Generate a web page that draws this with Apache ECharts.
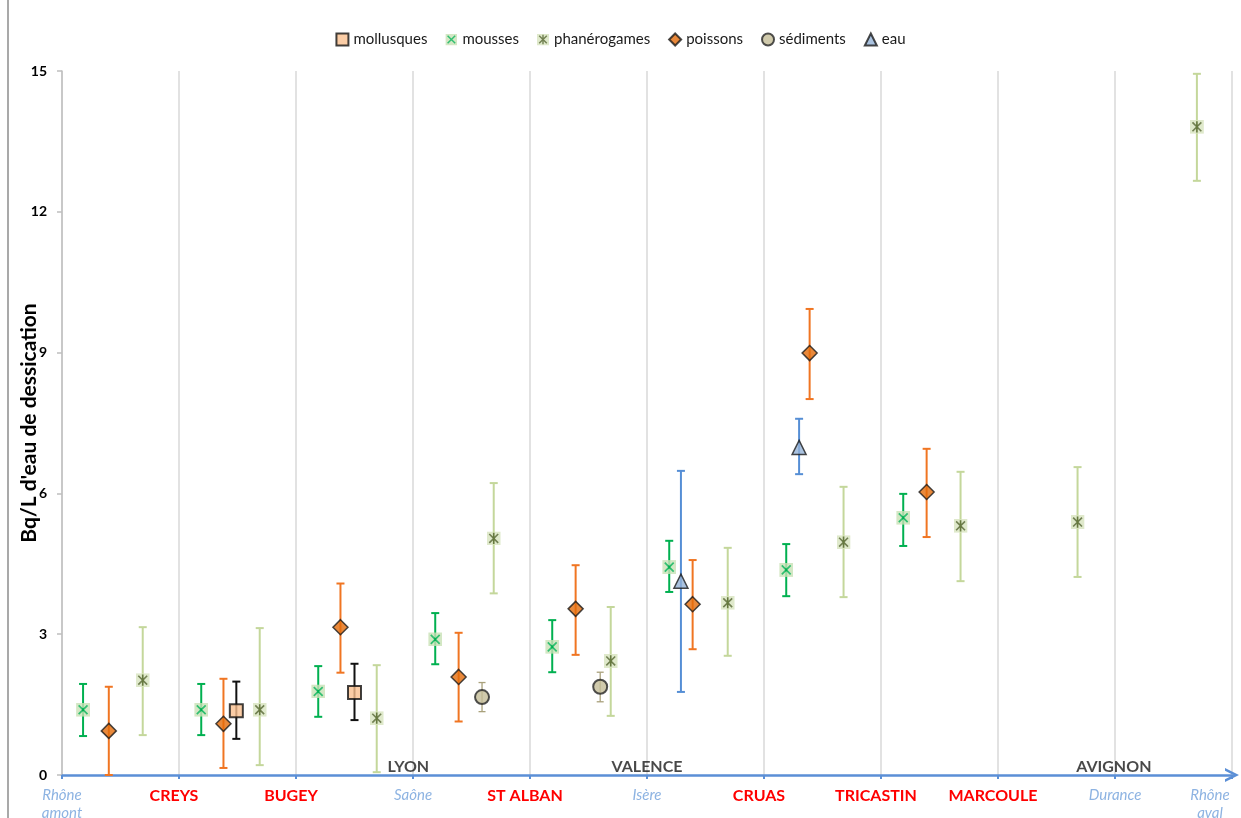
<!DOCTYPE html>
<html>
<head>
<meta charset="utf-8">
<script src="https://cdn.jsdelivr.net/npm/echarts@6/dist/echarts.min.js"></script>
<style>
  html, body { margin: 0; padding: 0; background: #ffffff; }
  #chart { width: 1241px; height: 818px; }
</style>
</head>
<body>
<div id="chart"></div>
<script>
// Stations along the Rhône, upstream (0) to downstream (10)
const stationLabels = ['Rhône\namont', 'CREYS', 'BUGEY', 'Saône', 'ST ALBAN', 'Isère',
  'CRUAS', 'TRICASTIN', 'MARCOULE', 'Durance', 'Rhône\naval'];
const stationKinds = ['river', 'site', 'site', 'river', 'site', 'river',
  'site', 'site', 'site', 'river', 'river'];

// Cities written along the river axis
const cityNames = ['LYON', 'VALENCE', 'AVIGNON'];
const cityPositions = [2.96, 5.0, 8.99];

// Activity (Bq/L of desiccation water) with lower / upper uncertainty bounds
const mollusquesX = [1.49, 2.50];
const mollusquesY = [1.37, 1.76];
const mollusquesLow = [0.77, 1.17];
const mollusquesHigh = [1.99, 2.37];

const moussesX = [0.18, 1.19, 2.19, 3.19, 4.19, 5.19, 6.19, 7.19];
const moussesY = [1.39, 1.39, 1.78, 2.89, 2.73, 4.43, 4.37, 5.48];
const moussesLow = [0.83, 0.85, 1.24, 2.36, 2.19, 3.90, 3.81, 4.88];
const moussesHigh = [1.94, 1.94, 2.32, 3.45, 3.30, 4.99, 4.92, 5.99];

const phanerogamesX = [0.69, 1.69, 2.69, 3.69, 4.69, 5.69, 6.68, 7.68, 8.68, 9.70];
const phanerogamesY = [2.02, 1.39, 1.21, 5.04, 2.43, 3.67, 4.96, 5.31, 5.39, 13.81];
const phanerogamesLow = [0.85, 0.21, 0.06, 3.87, 1.26, 2.54, 3.79, 4.13, 4.22, 12.66];
const phanerogamesHigh = [3.15, 3.13, 2.34, 6.22, 3.58, 4.84, 6.14, 6.46, 6.56, 14.94];

const poissonsX = [0.40, 1.38, 2.38, 3.39, 4.39, 5.39, 6.39, 7.39];
const poissonsY = [0.94, 1.09, 3.15, 2.09, 3.54, 3.64, 8.99, 6.03];
const poissonsLow = [0, 0.15, 2.18, 1.14, 2.56, 2.68, 8.01, 5.07];
const poissonsHigh = [1.88, 2.05, 4.08, 3.03, 4.47, 4.58, 9.93, 6.95];

const sedimentsX = [3.59, 4.60];
const sedimentsY = [1.66, 1.88];
const sedimentsLow = [1.35, 1.56];
const sedimentsHigh = [1.97, 2.19];

const eauX = [5.29, 6.30];
const eauY = [4.13, 6.98];
const eauLow = [1.77, 6.41];
const eauHigh = [6.48, 7.59];

const FONT = 'Lato, "Open Sans", sans-serif';

function svgSymbol(svg) {
  return 'image://data:image/svg+xml;charset=utf-8,' + encodeURIComponent(svg);
}
const moussesSymbol = svgSymbol(
  "<svg xmlns='http://www.w3.org/2000/svg' width='24' height='24' viewBox='0 0 12 12'>" +
  "<rect width='12' height='12' fill='#c9e2b6'/>" +
  "<path d='M2.2 2.2L9.8 9.8M9.8 2.2L2.2 9.8' stroke='#00b050' stroke-width='1.5' fill='none'/></svg>");
const phanerogamesSymbol = svgSymbol(
  "<svg xmlns='http://www.w3.org/2000/svg' width='24' height='24' viewBox='0 0 12 12'>" +
  "<rect width='12' height='12' fill='#d8e4bf'/>" +
  "<path d='M2.2 2.2L9.8 9.8M9.8 2.2L2.2 9.8M6 1.2L6 10.8' stroke='#4f6228' stroke-width='1.4' fill='none'/></svg>");

// Vertical uncertainty bar with caps, positioned through the axes
function errorBar(color, width, cap) {
  return function (params, api) {
    const x = api.value(0);
    const top = api.coord([x, api.value(2)]);
    const bot = api.coord([x, api.value(1)]);
    const style = { stroke: color, lineWidth: width };
    return {
      type: 'group',
      children: [
        { type: 'line', shape: { x1: top[0], y1: top[1], x2: bot[0], y2: bot[1] }, style },
        { type: 'line', shape: { x1: top[0] - cap, y1: top[1], x2: top[0] + cap, y2: top[1] }, style },
        { type: 'line', shape: { x1: bot[0] - cap, y1: bot[1], x2: bot[0] + cap, y2: bot[1] }, style }
      ]
    };
  };
}

function makeGroup(name, xs, ys, lows, highs, marker, bar) {
  return [
    {
      name: name + '-bornes',
      type: 'custom',
      z: 3,
      silent: true,
      renderItem: errorBar(bar.color, bar.width, bar.cap),
      encode: { x: 0, y: [1, 2] },
      data: xs.map((x, i) => [x, lows[i], highs[i]])
    },
    Object.assign({
      name: name,
      type: 'scatter',
      z: 5,
      data: xs.map((x, i) => [x, ys[i]])
    }, marker)
  ];
}

const series = [].concat(
  makeGroup('phanérogames', phanerogamesX, phanerogamesY, phanerogamesLow, phanerogamesHigh,
    { symbol: phanerogamesSymbol, symbolSize: 14 },
    { color: '#c4d79b', width: 2, cap: 4 }),
  makeGroup('mousses', moussesX, moussesY, moussesLow, moussesHigh,
    { symbol: moussesSymbol, symbolSize: 14 },
    { color: '#00b050', width: 2, cap: 4 }),
  makeGroup('sédiments', sedimentsX, sedimentsY, sedimentsLow, sedimentsHigh,
    { symbol: 'circle', symbolSize: 14, itemStyle: { color: '#c4bd97', borderColor: '#262626', borderWidth: 2 } },
    { color: '#a9a17b', width: 1.3, cap: 3.5 }),
  makeGroup('mollusques', mollusquesX, mollusquesY, mollusquesLow, mollusquesHigh,
    { symbol: 'rect', symbolSize: 13, itemStyle: { color: '#fac090', borderColor: '#111111', borderWidth: 2 } },
    { color: '#111111', width: 2, cap: 4 }),
  makeGroup('poissons', poissonsX, poissonsY, poissonsLow, poissonsHigh,
    { symbol: 'diamond', symbolSize: 15, itemStyle: { color: '#e46c0a', borderColor: '#1a1a1a', borderWidth: 1.5 } },
    { color: '#f07522', width: 2, cap: 4 }),
  makeGroup('eau', eauX, eauY, eauLow, eauHigh,
    { symbol: 'triangle', symbolSize: 14, itemStyle: { color: '#95b3d7', borderColor: '#1a1a1a', borderWidth: 1.5 } },
    { color: '#558ed5', width: 2, cap: 4 })
);

// City names sitting on the river axis
series.push({
  name: 'villes',
  type: 'scatter',
  z: 6,
  silent: true,
  symbolSize: 1,
  itemStyle: { color: 'rgba(0,0,0,0)' },
  label: {
    show: true,
    position: 'top',
    distance: 0,
    formatter: (p) => p.name,
    color: '#1a1a1a',
    fontFamily: FONT,
    fontWeight: 'bold',
    fontSize: 16
  },
  data: cityNames.map((n, i) => ({ name: n, value: [cityPositions[i], 0] }))
});

const chart = echarts.init(document.getElementById('chart'), null, { renderer: 'canvas' });
chart.setOption({
  backgroundColor: '#ffffff',
  animation: false,
  textStyle: { fontFamily: FONT },
  grid: { left: 62, right: 9, top: 71, bottom: 43, containLabel: false, outerBoundsMode: 'none' },
  legend: {
    data: ['mollusques', 'mousses', 'phanérogames', 'poissons', 'sédiments', 'eau'],
    top: 27,
    left: 'center',
    itemWidth: 12,
    itemHeight: 12,
    itemGap: 18,
    textStyle: { fontFamily: FONT, fontSize: 15, color: '#1a1a1a' }
  },
  xAxis: {
    type: 'value',
    min: 0,
    max: 10,
    interval: 1,
    axisLine: {
      show: true,
      onZero: false,
      symbol: ['none', 'path://M0 10L5 0L10 10L8 10L5 4L2 10Z'],
      symbolSize: [16, 14],
      lineStyle: { color: '#5b8fd6', width: 2.5 }
    },
    axisTick: { show: true, length: 4, lineStyle: { color: '#5b8fd6', width: 2 } },
    splitLine: { show: true, lineStyle: { color: '#d9d9d9', width: 1.5 } },
    axisLabel: {
      margin: 11,
      interval: 0,
      hideOverlap: false,
      formatter: function (v) {
        const i = Math.round(v);
        const text = stationLabels[i];
        if (text === undefined) return '';
        const key = stationKinds[i] === 'site' ? 'site' : (i === stationLabels.length - 1 ? 'riverEnd' : 'river');
        return text.split('\n').map(t => '{' + key + '|' + t + '}').join('\n');
      },
      rich: {
        site: { color: '#ff0000', fontFamily: FONT, fontWeight: 'bold', fontSize: 16, lineHeight: 20, padding: [0, 10, 0, 0] },
        river: { color: '#8db3e2', fontFamily: FONT, fontStyle: 'italic', fontSize: 15, lineHeight: 18 },
        riverEnd: { color: '#8db3e2', fontFamily: FONT, fontStyle: 'italic', fontSize: 15, lineHeight: 18, padding: [0, 44, 0, 0] }
      }
    }
  },
  yAxis: {
    type: 'value',
    min: 0,
    max: 15,
    interval: 3,
    name: "Bq/L d'eau de dessication",
    nameLocation: 'middle',
    nameRotate: 90,
    nameGap: 22,
    nameMoveOverlap: false,
    nameTextStyle: { fontFamily: FONT, fontWeight: 'bold', fontSize: 21, color: '#000000' },
    axisLine: { show: true, lineStyle: { color: '#bfbfbf', width: 1.5 } },
    axisTick: { show: true, length: 5, lineStyle: { color: '#bfbfbf', width: 1.5 } },
    splitLine: { show: false },
    axisLabel: { margin: 15, fontFamily: FONT, fontWeight: 'bold', fontSize: 14, color: '#000000' }
  },
  graphic: [
    {
      type: 'line',
      shape: { x1: 8, y1: 0, x2: 8, y2: 818 },
      style: { stroke: '#8c8c8c', lineWidth: 1.5 },
      silent: true
    }
  ],
  series: series
});
</script>
</body>
</html>
